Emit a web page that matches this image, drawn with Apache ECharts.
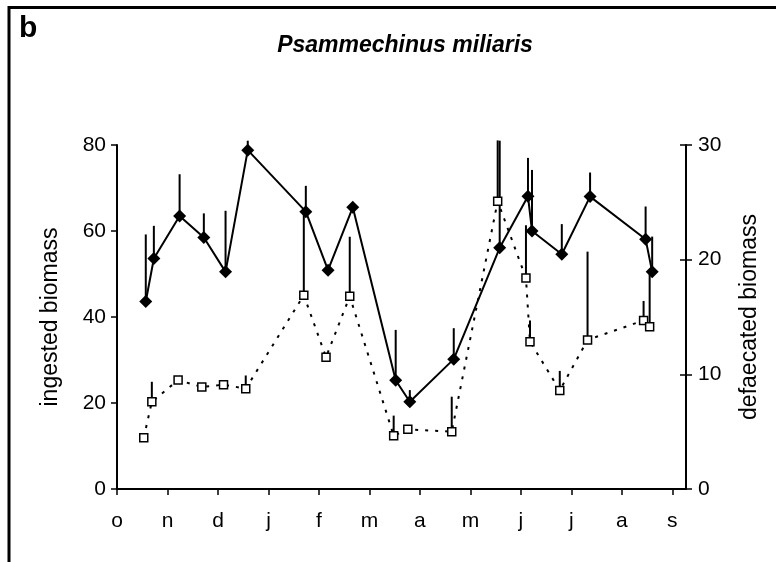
<!DOCTYPE html>
<html>
<head>
<meta charset="utf-8">
<script src="https://cdn.jsdelivr.net/npm/echarts@6/dist/echarts.min.js"></script>
<style>
html, body { margin: 0; padding: 0; background: #fff; }
#chart { width: 776px; height: 562px; }
</style>
</head>
<body>
<div id="chart"></div>
<script>
// month tick labels, starting at october
const months = ['o', 'n', 'd', 'j', 'f', 'm', 'a', 'm', 'j', 'j', 'a', 's'];

// ingested biomass (left axis), x in months since 1 oct
const ingestedX = [0.57, 0.73, 1.24, 1.72, 2.15, 2.59, 3.74, 4.18, 4.67, 5.52, 5.80, 6.67, 7.58, 8.14, 8.22, 8.81, 9.37, 10.47, 10.60];
const ingestedY = [43.6, 53.6, 63.5, 58.5, 50.5, 78.8, 64.5, 50.9, 65.5, 25.3, 20.3, 30.2, 56.1, 68.1, 60.0, 54.6, 68.0, 58.1, 50.5];
const ingestedTop = [59.2, 61.2, 73.2, 64.1, 64.7, 81, 70.5, null, null, 37, 23, 37.4, 81, 77, 74.2, 61.6, 73.6, 65.7, 58.7];

// defaecated biomass (right axis)
const defaecX = [0.53, 0.69, 1.21, 1.68, 2.11, 2.55, 3.70, 4.14, 4.61, 5.48, 5.76, 6.63, 7.54, 8.10, 8.18, 8.77, 9.32, 10.43, 10.55];
const defaecY = [4.47, 7.6, 9.5, 8.9, 9.1, 8.75, 16.9, 11.5, 16.8, 4.65, 5.2, 5.0, 25.1, 18.4, 12.85, 8.6, 13.0, 14.7, 14.15];
const defaecTop = [null, 9.35, null, null, null, 9.9, 24, null, 22.0, 6.4, null, 8.05, 30.4, 23, 14.7, 10.3, 20.7, 16.4, 18.9];

const font = 'Liberation Sans, Arial, sans-serif';

const pairs = (xs, ys) => xs.map((x, i) => [x, ys[i]]);
const errData = (xs, ys, tops) => xs.map((x, i) => [x, ys[i], tops[i]]).filter(d => d[2] != null);

// upward-only error bars
const errBar = (params, api) => {
    const p0 = api.coord([api.value(0), api.value(1)]);
    const p1 = api.coord([api.value(0), api.value(2)]);
    return {
        type: 'line',
        shape: { x1: p0[0], y1: p0[1], x2: p1[0], y2: p1[1] },
        style: { stroke: '#000', lineWidth: 2 }
    };
};

const myChart = echarts.init(document.getElementById('chart'));

const option = {
    animation: false,
    title: {
        text: 'Psammechinus miliaris',
        left: 400,
        textAlign: 'center',
        top: 29,
        textStyle: { fontFamily: font, fontSize: 23, fontWeight: 'bold', fontStyle: 'italic', color: '#000' }
    },
    graphic: [
        {
            type: 'rect',
            shape: { x: 9, y: 7.5, width: 790, height: 580 },
            style: { fill: 'none', stroke: '#000', lineWidth: 3 },
            silent: true
        },
        {
            type: 'text',
            left: 19,
            top: 14,
            style: { text: 'b', font: 'bold 30px ' + font, fill: '#000' }
        }
    ],
    grid: { left: 117, right: 90, top: 145, bottom: 73 },
    xAxis: {
        type: 'value',
        min: 0,
        max: 11.27,
        interval: 1,
        splitLine: { show: false },
        axisLine: { lineStyle: { color: '#000', width: 2 } },
        axisTick: { length: 6, lineStyle: { color: '#000', width: 1.5 } },
        axisLabel: {
            margin: 22,
            fontFamily: font,
            fontSize: 21,
            color: '#000',
            showMaxLabel: false,
            formatter: v => (Number.isInteger(v) ? months[v] : '')
        }
    },
    yAxis: [
        {
            type: 'value',
            min: 0,
            max: 80,
            interval: 20,
            name: 'ingested biomass',
            nameLocation: 'middle',
            nameGap: 55,
            nameTextStyle: { fontFamily: font, fontSize: 23, color: '#000' },
            splitLine: { show: false },
            axisLine: { show: true, lineStyle: { color: '#000', width: 2 } },
            axisTick: { show: true, length: 6, lineStyle: { color: '#000', width: 1.5 } },
            axisLabel: { margin: 11, fontFamily: font, fontSize: 21, color: '#000' }
        },
        {
            type: 'value',
            min: 0,
            max: 30,
            interval: 10,
            position: 'right',
            name: 'defaecated biomass',
            nameLocation: 'middle',
            nameGap: 52,
            nameRotate: 90,
            nameTextStyle: { fontFamily: font, fontSize: 23, color: '#000' },
            splitLine: { show: false },
            axisLine: { show: true, lineStyle: { color: '#000', width: 2 } },
            axisTick: { show: true, length: 6, lineStyle: { color: '#000', width: 1.5 } },
            axisLabel: { margin: 12, fontFamily: font, fontSize: 21, color: '#000' }
        },
        {
            // inner half of the crossing ticks on the right axis
            type: 'value',
            min: 0,
            max: 30,
            interval: 10,
            position: 'right',
            splitLine: { show: false },
            axisLine: { show: false },
            axisTick: { show: true, inside: true, length: 6, lineStyle: { color: '#000', width: 1.5 } },
            axisLabel: { show: false }
        }
    ],
    series: [
        {
            name: 'ingested error',
            type: 'custom',
            yAxisIndex: 0,
            clip: false,
            renderItem: errBar,
            encode: { x: 0, y: [1, 2] },
            data: errData(ingestedX, ingestedY, ingestedTop),
            z: 1
        },
        {
            name: 'defaecated error',
            type: 'custom',
            yAxisIndex: 1,
            clip: false,
            renderItem: errBar,
            encode: { x: 0, y: [1, 2] },
            data: errData(defaecX, defaecY, defaecTop),
            z: 1
        },
        {
            name: 'defaecated',
            type: 'line',
            yAxisIndex: 1,
            data: pairs(defaecX, defaecY),
            symbol: 'rect',
            symbolSize: 8,
            showAllSymbol: true,
            lineStyle: { color: '#000', width: 2, type: [3, 7] },
            itemStyle: { color: '#fff', borderColor: '#000', borderWidth: 1.5 },
            z: 3
        },
        {
            name: 'ingested',
            type: 'line',
            yAxisIndex: 0,
            data: pairs(ingestedX, ingestedY),
            symbol: 'diamond',
            symbolSize: 13,
            showAllSymbol: true,
            lineStyle: { color: '#000', width: 2 },
            itemStyle: { color: '#000' },
            z: 4
        }
    ]
};

myChart.setOption(option);
window.addEventListener('resize', () => {
    myChart.resize();
});
</script>
</body>
</html>
